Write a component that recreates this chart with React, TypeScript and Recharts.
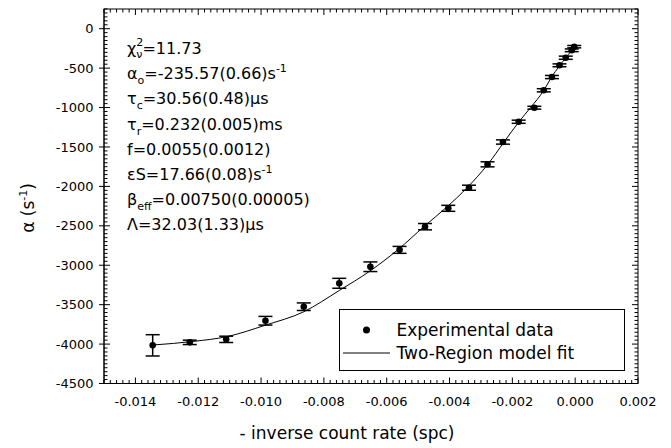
import { ComposedChart, Scatter, Line, XAxis, YAxis, ErrorBar } from 'recharts'

// experimental points (left to right)
const expX = [-0.01345, -0.01227, -0.01111, -0.00986, -0.00864, -0.00751, -0.00652, -0.00559, -0.00478, -0.00404, -0.00338, -0.00279, -0.0023, -0.0018, -0.0013, -0.001, -0.00074, -0.0005, -0.0003, -0.00011, -0.00003]
const expY = [-4016, -3978, -3940, -3704, -3526, -3229, -3019, -2805, -2511, -2278, -2017, -1720, -1437, -1180, -1002, -781, -613, -464, -368, -274, -228]
const expErr = [135, 28, 40, 55, 48, 63, 61, 44, 40, 38, 32, 32, 27, 20, 18, 20, 20, 18, 20, 17, 15]

// two-region model fit curve
const fitX = [-0.01345, -0.01213, -0.01108, -0.00986, -0.00864, -0.00751, -0.00652, -0.00565, -0.0048, -0.00411, -0.00343, -0.00277, -0.00227, -0.00179, -0.00142, -0.001, -0.00076, -0.0005, -0.0003, -0.00013, 0]
const fitY = [-4012, -3965, -3905, -3760, -3590, -3320, -3070, -2805, -2505, -2270, -2012, -1715, -1440, -1180, -1000, -783, -620, -470, -370, -285, -236]

const xMajor = [-0.014, -0.012, -0.01, -0.008, -0.006, -0.004, -0.002, 0, 0.002]
const yMajor = [0, -500, -1000, -1500, -2000, -2500, -3000, -3500, -4000, -4500]
const xDomain = [-0.015, 0.002]
const yDomain = [-4500, 250]

const seriesNames = ['Experimental data', 'Two-Region model fit']

const FONT = '"DejaVu Sans", sans-serif'

// layout
const W = 671
const H = 448
const M = { top: 9, right: 33, bottom: 0, left: 0 }
const Y_AXIS_W = 104
const X_AXIS_H = 64.5
const PLOT_L = M.left + Y_AXIS_W
const PLOT_T = M.top
const PLOT_W = W - M.left - M.right - Y_AXIS_W
const PLOT_H = H - M.top - M.bottom - X_AXIS_H

const expData = expX.map((x, i) => ({ x, y: expY[i], err: expErr[i] }))
const fitData = fitX.map((x, i) => ({ x, y: fitY[i] }))

// minor ticks every 0.0002 / 50
const xTicks: number[] = []
for (let i = 0; i <= 85; i++) xTicks.push(Number((-0.015 + i * 0.0002).toFixed(5)))
const yTicks: number[] = []
for (let v = -4500; v <= 250; v += 50) yTicks.push(v)

const isXMajor = (v: number) => xMajor.some((m) => Math.abs(m - v) < 1e-7)
const isYMajor = (v: number) => yMajor.includes(v)

const xPix = (v: number) => PLOT_L + ((v - xDomain[0]) / (xDomain[1] - xDomain[0])) * PLOT_W
const yPix = (v: number) => PLOT_T + ((yDomain[1] - v) / (yDomain[1] - yDomain[0])) * PLOT_H

function XTick(props: any) {
  const { x, y, payload } = props
  if (!isXMajor(payload.value)) return <g />
  const v = Math.abs(payload.value) < 1e-9 ? 0 : payload.value
  return (
    <text x={x} y={y + 22} textAnchor="middle" fontSize={13} fontFamily={FONT} fill="#000">
      {v.toFixed(3)}
    </text>
  )
}

function YTick(props: any) {
  const { x, y, payload } = props
  if (!isYMajor(payload.value)) return <g />
  return (
    <text x={x - 10.5} y={y} dy="0.36em" textAnchor="end" fontSize={13} fontFamily={FONT} fill="#000">
      {payload.value}
    </text>
  )
}

// frame and tick marks on all four sides
function Frame() {
  const bottom = PLOT_T + PLOT_H
  const right = PLOT_L + PLOT_W
  return (
    <g stroke="#000" strokeWidth={1}>
      <rect x={PLOT_L} y={PLOT_T} width={PLOT_W} height={PLOT_H} fill="none" />
      {xTicks.map((v) => {
        const px = xPix(v)
        const len = isXMajor(v) ? 6 : 3.5
        return (
          <g key={'x' + v}>
            <line x1={px} x2={px} y1={bottom} y2={bottom - len} />
            <line x1={px} x2={px} y1={PLOT_T} y2={PLOT_T + len} />
          </g>
        )
      })}
      {yTicks.map((v) => {
        const py = yPix(v)
        const major = isYMajor(v)
        const len = major ? 6 : 3.5
        return (
          <g key={'y' + v}>
            <line x1={major ? PLOT_L - 5 : PLOT_L} x2={PLOT_L + len} y1={py} y2={py} />
            <line x1={right} x2={right - len} y1={py} y2={py} />
          </g>
        )
      })}
    </g>
  )
}

function Overlay() {
  const x0 = 127
  const b = (i: number) => 54 + i * 25.2
  const s = 11
  return (
    <svg width={W} height={H} style={{ position: 'absolute', left: 0, top: 0, pointerEvents: 'none' }}>
      <Frame />
      <g fontFamily={FONT} fontSize={16} fill="#000">
        <text x={x0} y={b(0)}>
          χ<tspan fontSize={s} dy={-8}>2</tspan>
          <tspan fontSize={s} dx={-7} dy={12}>ν</tspan>
          <tspan dy={-4}>=11.73</tspan>
        </text>
        <text x={x0} y={b(1)}>
          α<tspan fontSize={s} dy={5}>o</tspan>
          <tspan dy={-5}>=-235.57(0.66)s</tspan>
          <tspan fontSize={s} dy={-7}>-1</tspan>
        </text>
        <text x={x0} y={b(2)}>
          τ<tspan fontSize={s} dy={5}>c</tspan>
          <tspan dy={-5}>=30.56(0.48)μs</tspan>
        </text>
        <text x={x0} y={b(3)}>
          τ<tspan fontSize={s} dy={5}>r</tspan>
          <tspan dy={-5}>=0.232(0.005)ms</tspan>
        </text>
        <text x={x0} y={b(4)}>f=0.0055(0.0012)</text>
        <text x={x0} y={b(5)}>
          εS=17.66(0.08)s<tspan fontSize={s} dy={-7}>-1</tspan>
        </text>
        <text x={x0} y={b(6)}>
          β<tspan fontSize={s} dy={5}>eff</tspan>
          <tspan dy={-5}>=0.00750(0.00005)</tspan>
        </text>
        <text x={x0} y={b(7)}>Λ=32.03(1.33)μs</text>

        <text x={347} y={439} textAnchor="middle" fontSize={17}>- inverse count rate (spc)</text>
        <text x={34} y={208} textAnchor="middle" fontSize={17} transform="rotate(-90, 34, 208)">
          α (s<tspan fontSize={s} dy={-7}>-1</tspan>
          <tspan dy={7}>)</tspan>
        </text>
      </g>
      {/* legend */}
      <g transform="translate(339, 309)">
        <rect x={0.5} y={0.5} width={285} height={61} fill="#fff" stroke="#000" />
        <circle cx={27.5} cy={21} r={3.5} fill="#000" />
        <text x={57.5} y={27} fontSize={17} fontFamily={FONT} fill="#000">{seriesNames[0]}</text>
        <line x1={4} x2={51} y1={44} y2={44} stroke="#000" />
        <text x={57.5} y={50} fontSize={17} fontFamily={FONT} fill="#000">{seriesNames[1]}</text>
      </g>
    </svg>
  )
}

export default function App() {
  return (
    <div style={{ position: 'absolute', left: 0, top: 0, width: W, height: H }}>
      <ComposedChart width={W} height={H} margin={M}>
        <XAxis
          type="number"
          dataKey="x"
          domain={xDomain}
          allowDataOverflow
          ticks={xTicks}
          interval={0}
          tickSize={0}
          tickMargin={0}
          tick={XTick}
          axisLine={{ stroke: '#000' }}
          height={X_AXIS_H}
        />
        <YAxis
          type="number"
          domain={yDomain}
          allowDataOverflow
          ticks={yTicks}
          interval={0}
          tickSize={0}
          tickMargin={0}
          tick={YTick}
          axisLine={{ stroke: '#000' }}
          width={Y_AXIS_W}
        />
        <Line
          data={fitData}
          dataKey="y"
          type="monotone"
          stroke="#000"
          strokeWidth={1}
          dot={false}
          isAnimationActive={false}
          name={seriesNames[1]}
        />
        <Scatter
          data={expData}
          dataKey="y"
          name={seriesNames[0]}
          fill="#000"
          isAnimationActive={false}
          shape={(p: any) => <circle cx={p.cx} cy={p.cy} r={3.3} fill="#000" />}
        >
          <ErrorBar dataKey="err" direction="y" width={7} stroke="#000" />
        </Scatter>
      </ComposedChart>
      <Overlay />
    </div>
  )
}
